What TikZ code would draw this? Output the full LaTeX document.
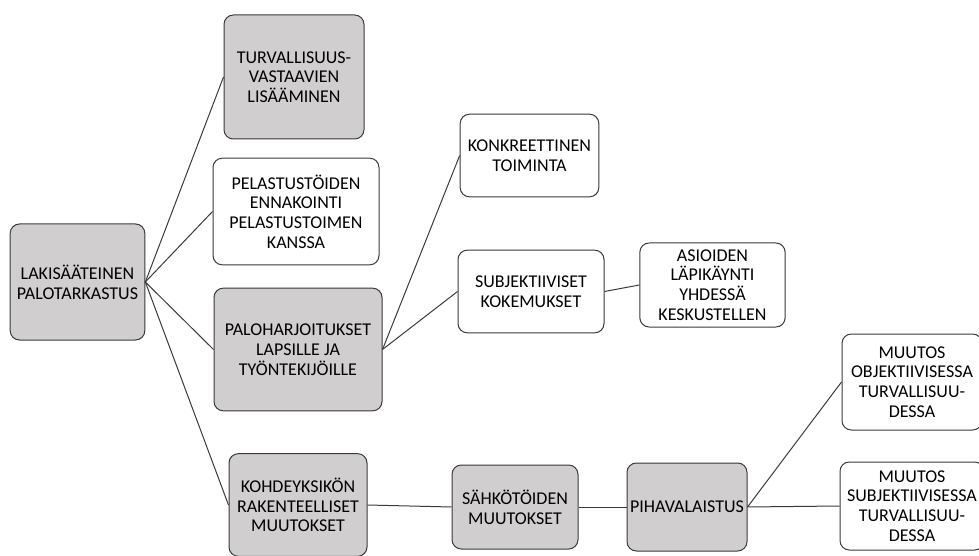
\documentclass[tikz,border=0pt]{standalone}
\usepackage{fontspec}
\setmainfont{Carlito}
\usetikzlibrary{arrows, shapes, calc}
\definecolor{mygray}{HTML}{D0CECE}
\definecolor{myline}{HTML}{3A3A3A}

\begin{document}
\begin{tikzpicture}[x=0.75pt, y=-0.75pt]
\tikzset{BoxStyle/.style =
    {draw=myline, line width=0.75pt, fill=white, rounded corners=7pt, align=center,
     inner sep=1pt, font=\fontsize{13.5}{14.8}\selectfont}
}
\tikzset{GrayBoxStyle/.style = {BoxStyle, fill=mygray}}
\tikzset{EdgeStyle/.style = {draw=myline, line width=0.75pt}}
\useasboundingbox (0,0) rectangle (979,556);
% root and first level
\node[GrayBoxStyle, minimum width=101pt, minimum height=87pt] (PT-lak) at (77.5,282) {LAKISÄÄTEINEN\\PALOTARKASTUS};
\node[GrayBoxStyle, minimum width=105pt, minimum height=93pt] (PT-turv) at (294,77) {TURVALLISUUS-\\VASTAAVIEN\\LISÄÄMINEN};
\node[BoxStyle, minimum width=124.5pt, minimum height=80pt] (PT-pel) at (296,211.5) {PELASTUSTÖIDEN\\ENNAKOINTI\\PELASTUSTOIMEN\\KANSSA};
\node[GrayBoxStyle, minimum width=126pt, minimum height=92pt] (PT-palo) at (298,349.5) {PALOHARJOITUKSET\\LAPSILLE JA\\TYÖNTEKIJÖILLE};
\node[GrayBoxStyle, minimum width=103.5pt, minimum height=77pt] (PT-kohde) at (298,505) {KOHDEYKSIKÖN\\RAKENTEELLISET\\MUUTOKSET};
% second level
\node[BoxStyle, minimum width=104pt, minimum height=62pt] (PT-konkr) at (529.5,155.5) {KONKREETTINEN\\TOIMINTA};
\node[BoxStyle, minimum width=109.5pt, minimum height=62pt] (PT-subj) at (531,291.5) {SUBJEKTIIVISET\\KOKEMUKSET};
\node[BoxStyle, minimum width=109pt, minimum height=63pt] (PT-asi) at (712.5,285) {ASIOIDEN\\LÄPIKÄYNTI\\YHDESSÄ\\KESKUSTELLEN};
\node[GrayBoxStyle, minimum width=94.5pt, minimum height=63pt] (PT-sahko) at (515,507) {SÄHKÖTÖIDEN\\MUUTOKSET};
\node[GrayBoxStyle, minimum width=90pt, minimum height=66pt] (PT-piha) at (687,507) {PIHAVALAISTUS};
\node[BoxStyle, minimum width=105pt, minimum height=72pt] (PT-obj) at (912,382) {MUUTOS\\OBJEKTIIVISESSA\\TURVALLISUU-\\DESSA};
\node[BoxStyle, minimum width=108pt, minimum height=66pt] (PT-subjt) at (912,506) {MUUTOS\\SUBJEKTIIVISESSA\\TURVALLISUU-\\DESSA};
% connectors
\foreach \child in {turv, pel, palo, kohde}
    \draw[EdgeStyle] (PT-lak.east) -- (PT-\child.west);
\foreach \child in {konkr, subj}
    \draw[EdgeStyle] (PT-palo.east) -- (PT-\child.west);
\draw[EdgeStyle] (PT-subj.east) -- (PT-asi.west);
\draw[EdgeStyle] (PT-kohde.east) -- (PT-sahko.west);
\draw[EdgeStyle] (PT-sahko.east) -- (PT-piha.west);
\foreach \child in {obj, subjt}
    \draw[EdgeStyle] (PT-piha.east) -- (PT-\child.west);
\end{tikzpicture}
\end{document}
